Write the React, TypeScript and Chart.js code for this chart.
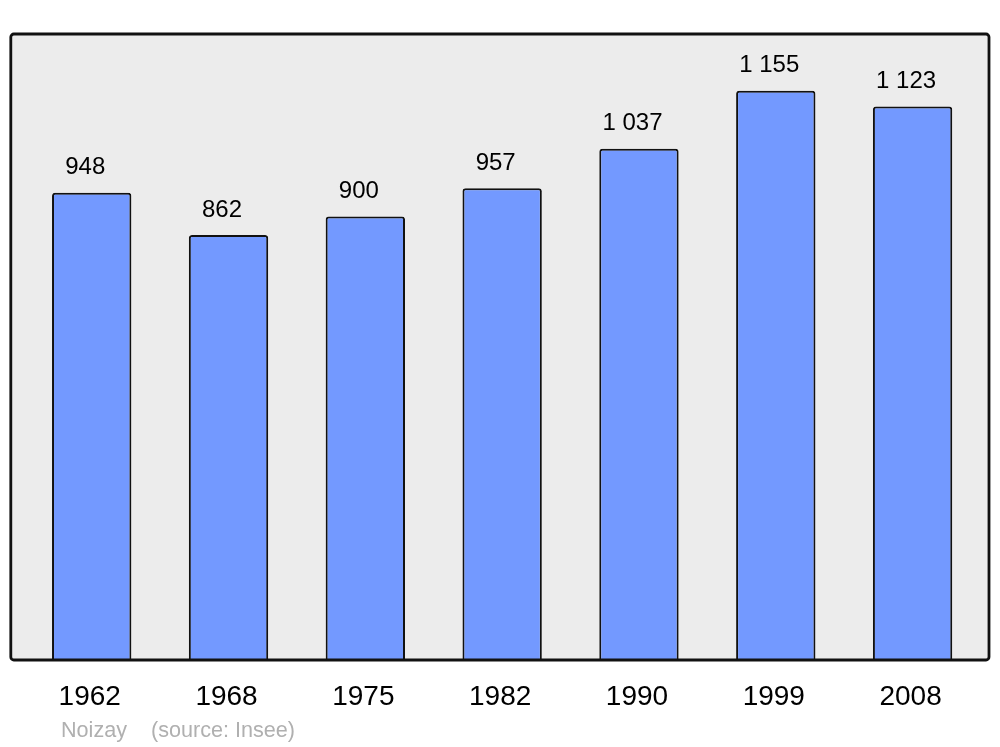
import React, { useEffect, useRef } from "react";
import { Chart, registerables } from "chart.js";

Chart.register(...registerables);

const years = ["1962", "1968", "1975", "1982", "1990", "1999", "2008"];
const population = [948, 862, 900, 957, 1037, 1155, 1123];
const yMax = 1270;
const caption = "Noizay    (source: Insee)";

const FONT = "'Liberation Sans', Arial, sans-serif";

function fmt(v: number): string {
  const s = String(v);
  return s.replace(/\B(?=(\d{3})+(?!\d))/g, " ");
}

const framePlugin = {
  id: "frame",
  beforeDatasetsDraw(chart: any) {
    const { ctx, chartArea } = chart;
    const l = chartArea.left - 12.5;
    const r = chartArea.right + 8;
    const t = chartArea.top;
    const b = chartArea.bottom;
    ctx.save();
    ctx.beginPath();
    ctx.roundRect(l, t, r - l, b - t, 3);
    ctx.fillStyle = "#ececec";
    ctx.fill();
    ctx.restore();
  },
  afterDatasetsDraw(chart: any) {
    const { ctx, chartArea } = chart;
    const l = chartArea.left - 12.5;
    const r = chartArea.right + 8;
    const t = chartArea.top;
    const b = chartArea.bottom;
    ctx.save();
    ctx.beginPath();
    ctx.roundRect(l, t, r - l, b - t, 3);
    ctx.lineWidth = 2.8;
    ctx.strokeStyle = "#111111";
    ctx.stroke();
    // value labels
    const meta = chart.getDatasetMeta(0);
    ctx.fillStyle = "#000000";
    ctx.font = `24px ${FONT}`;
    ctx.textAlign = "center";
    ctx.textBaseline = "middle";
    meta.data.forEach((bar: any, i: number) => {
      ctx.fillText(fmt(population[i]), bar.x - 6.5, bar.y - 25);
    });
    // caption
    ctx.fillStyle = "#b0b0b0";
    ctx.font = `21.6px ${FONT}`;
    ctx.textAlign = "left";
    ctx.fillText(caption, 61, 731);
    ctx.restore();
  },
};

export default function App() {
  const ref = useRef<HTMLCanvasElement | null>(null);
  useEffect(() => {
    if (!ref.current) return;
    Chart.defaults.font.family = FONT;
    const chart = new Chart(ref.current, {
      type: "bar",
      data: {
        labels: years,
        datasets: [
          {
            data: population,
            backgroundColor: "#7399ff",
            borderColor: "#111111",
            borderWidth: 2,
            borderSkipped: "bottom",
            borderRadius: { topLeft: 3, topRight: 3, bottomLeft: 0, bottomRight: 0 },
            categoryPercentage: 1,
            barPercentage: 0.58,
          },
        ],
      },
      options: {
        animation: false,
        responsive: false,
        maintainAspectRatio: false,
        layout: { padding: { left: 23.3, right: 19, top: 34, bottom: 0 } },
        plugins: {
          legend: { display: false },
          tooltip: { enabled: false },
          title: { display: false },
        },
        scales: {
          x: {
            grid: { display: false, drawTicks: false },
            border: { display: false },
            ticks: {
              color: "#000000",
              font: { size: 28, family: FONT },
              padding: 20,
              maxRotation: 0,
              labelOffset: -2,
            },
            afterFit: (scale: any) => {
              scale.height = 87;
            },
          },
          y: {
            display: false,
            min: 0,
            max: yMax,
          },
        },
      },
      plugins: [framePlugin],
    });
    return () => chart.destroy();
  }, []);
  return (
    <div style={{ position: "absolute", left: 0, top: 0, width: 1000, height: 747, background: "#ffffff" }}>
      <canvas ref={ref} width={1000} height={747} style={{ width: 1000, height: 747 }} />
    </div>
  );
}
